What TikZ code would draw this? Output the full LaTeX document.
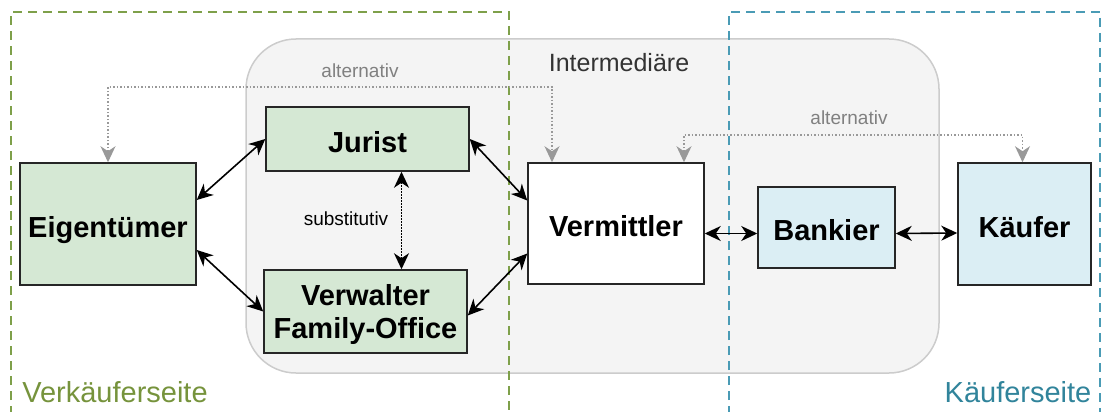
\documentclass[tikz,border=0pt]{standalone}
\usepackage{fontspec}
\setmainfont{Liberation Sans}
\usetikzlibrary{arrows.meta}
\definecolor{greenfill}{HTML}{D5E8D4}
\definecolor{bluefill}{HTML}{DBEEF4}
\definecolor{greendash}{HTML}{7EA04A}
\definecolor{greentext}{HTML}{76933C}
\definecolor{bluedash}{HTML}{4A9BB5}
\definecolor{bluetext}{HTML}{31849B}
\definecolor{groupfill}{HTML}{F4F4F4}
\definecolor{groupline}{HTML}{CCCCCC}
\definecolor{alttext}{HTML}{808080}
\definecolor{altline}{HTML}{999999}
\tikzset{
  box/.style={draw=black!85, line width=1.5pt, inner sep=0pt, align=center,
    font=\fontsize{29}{33}\selectfont\bfseries},
  oneline/.style={text height=26pt, text depth=0pt},
  tip/.style={Stealth[length=16pt,width=15pt,inset=5pt]},
  conn/.style={line width=1.6pt, {Stealth[length=16pt,width=15pt,inset=5pt]}-{Stealth[length=16pt,width=15pt,inset=5pt]}},
  subst/.style={line width=1.5pt, dash pattern=on 1.5pt off 1.5pt, {Stealth[length=16pt,width=15pt,inset=5pt]}-{Stealth[length=16pt,width=15pt,inset=5pt]}},
  altconn/.style={altline, line width=1.5pt, dash pattern=on 1.5pt off 2pt, {Stealth[length=16pt,width=15pt,inset=5pt]}-{Stealth[length=16pt,width=15pt,inset=5pt]}},
  sidedash/.style={line width=2pt, dash pattern=on 9pt off 6pt},
  alttxt/.style={text=alttext, font=\fontsize{19}{22}\selectfont, inner sep=0pt},
  sidetxt/.style={font=\fontsize{29}{32}\selectfont, inner sep=0pt}
}
\begin{document}
\begin{tikzpicture}[x=1pt,y=-1pt]
\useasboundingbox (0,0) rectangle (1105,412);
\begin{scope}
\clip (0,0) rectangle (1105,412);
% group
\draw[fill=groupfill, draw=groupline, line width=1.5pt, rounded corners=50pt] (246,39) rectangle (939,373);
\node[text=black!80, font=\fontsize{25}{30}\selectfont, inner sep=0pt] (inter) at (619,63) {Intermediäre};
% side frames
\draw[sidedash, greendash] (11,430) -- (11,12) -- (509,12) -- (509,430);
\draw[sidedash, bluedash] (729,430) -- (729,12) -- (1100,12) -- (1100,430);
\end{scope}
\node[sidetxt, text=greentext] (vk) at (115,392) {Verkäuferseite};
\node[sidetxt, text=bluetext] (kf) at (1018,392) {Käuferseite};
% nodes
\node[box, oneline, fill=greenfill, minimum width=176pt, minimum height=122pt] (eig) at (108,224) {Eigentümer};
\node[box, oneline, fill=greenfill, minimum width=203pt, minimum height=64pt] (jur) at (367.5,139) {Jurist};
\node[box, fill=greenfill, minimum width=203pt, minimum height=83pt] (verw) at (365.5,311.5) {\rule{0pt}{27pt}Verwalter\\Family-Office};
\node[box, oneline, fill=white, minimum width=176pt, minimum height=121pt] (verm) at (616,223.5) {Vermittler};
\node[box, oneline, fill=bluefill, minimum width=137pt, minimum height=81pt] (bank) at (826.5,227.5) {Bankier};
\node[box, oneline, fill=bluefill, minimum width=133pt, minimum height=122pt] (kauf) at (1024.5,224) {Käufer};
% labels
\node[alttxt] (alt1) at (360,71) {alternativ};
\node[alttxt] (alt2) at (849,118) {alternativ};
\node[font=\fontsize{19}{22}\selectfont, inner sep=0pt] (sub) at (346,219) {substitutiv};
% connectors
\draw[conn] ([yshift=24pt]eig.east) -- (jur.west);
\draw[conn] ([yshift=-26pt]eig.east) -- (verw.west);
\draw[conn] (jur.east) -- ([yshift=23pt]verm.west);
\draw[conn] ([yshift=-4pt]verw.east) -- ([yshift=-30pt]verm.west);
\draw[subst] ([xshift=34pt]jur.south) -- ([xshift=36pt]verw.north);
\draw[conn] ([yshift=-10pt]verm.east) -- ([yshift=-6pt]bank.west);
\draw[conn] ([yshift=-6pt]bank.east) -- ([yshift=-9pt]kauf.west);
% alternatives
\coordinate (a1) at (108,87);
\coordinate (a2) at (684,135);
\draw[altconn] (eig.north) -- (a1) -| ([xshift=-64pt]verm.north);
\draw[altconn] ([xshift=68pt]verm.north) -- (a2) -| ([xshift=-2pt]kauf.north);
\end{tikzpicture}
\end{document}
